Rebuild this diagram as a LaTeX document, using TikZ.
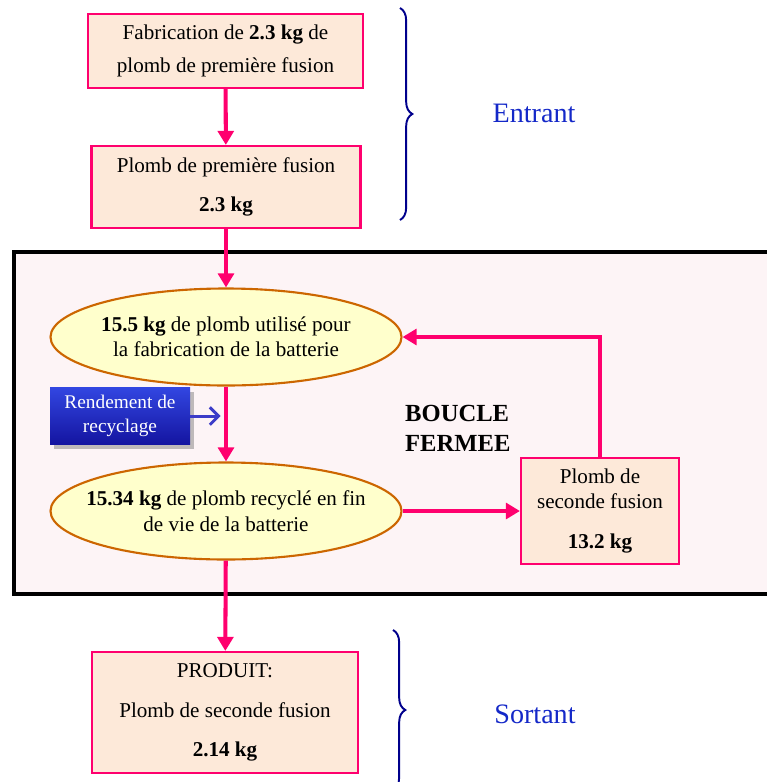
\documentclass[tikz,border=0pt]{standalone}
\usepackage{fontspec}
\setmainfont{Liberation Serif}
\usetikzlibrary{shapes.geometric,arrows.meta,decorations.pathreplacing,shadows}
\definecolor{flux}{RGB}{255,0,110}
\definecolor{peche}{RGB}{253,233,217}
\definecolor{jaune}{RGB}{255,255,204}
\definecolor{ocre}{RGB}{204,102,0}
\definecolor{fondboucle}{RGB}{253,244,246}
\definecolor{bleutxt}{RGB}{20,40,200}
\definecolor{bleufonce}{RGB}{0,0,140}
\definecolor{bleuflux}{RGB}{60,60,200}
\begin{document}
\begin{tikzpicture}[
    txt/.style={font=\fontsize{12}{14.5}\selectfont, align=center},
    boite/.style={txt, rectangle, draw=flux, line width=1.2pt, fill=peche},
    bulle/.style={txt, ellipse, draw=ocre, line width=1.2pt, fill=jaune,
      minimum width=7.02cm, minimum height=1.94cm},
    fleche/.style={draw=flux, line width=2.3pt, -{Triangle[length=8pt,width=9pt]}},
    accolade/.style={draw=bleufonce, line width=1.1pt,
      decorate, decoration={brace, amplitude=7pt}},
    titre/.style={font=\fontsize{16}{19}\selectfont, text=bleutxt}
  ]
  \useasboundingbox (0,0) rectangle (15.32,-15.64);

  % boucle fermee
  \draw[line width=2.3pt, fill=fondboucle] (0.28,-5.04) rectangle (15.6,-11.88);

  % entrant
  \node[boite, minimum width=5.5cm, minimum height=1.48cm] (fab) at (4.51,-1.02)
    {Fabrication de \textbf{2.3 kg} de\\[4pt] plomb de première fusion};
  \node[boite, minimum width=5.38cm, minimum height=1.64cm] (pf) at (4.52,-3.74)
    {Plomb de première fusion\\[8pt] \textbf{2.3 kg}};

  % boucle
  \node[bulle, inner xsep=-6pt] (e1) at (4.52,-6.74)
    {\textbf{15.5 kg} de plomb utilisé pour\\ la fabrication de la batterie};
  \node[bulle, inner xsep=-9.5pt] (e2) at (4.52,-10.22)
    {\textbf{15.34 kg} de plomb recyclé en fin\\ de vie de la batterie};
  \node[boite, minimum width=3.16cm, minimum height=2.12cm] (sf) at (12.0,-10.22)
    {Plomb de\\ seconde fusion\\[8pt] \textbf{13.2 kg}};
  \node[font=\fontsize{11}{13.5}\selectfont, align=center, text=white,
    minimum width=2.8cm, minimum height=1.14cm, drop shadow,
    top color={rgb,255:red,50;green,70;blue,225},
    bottom color={rgb,255:red,20;green,20;blue,160}] (rr) at (2.4,-8.32)
    {Rendement de\\ recyclage};
  \node[font=\fontsize{14}{17}\selectfont\bfseries, align=left, anchor=west] (bf)
    at (7.98,-8.56) {BOUCLE\\ FERMEE};

  % sortant
  \node[boite, minimum width=5.32cm, minimum height=2.42cm] (pr) at (4.5,-14.25)
    {PRODUIT:\\[8pt] Plomb de seconde fusion\\[8pt] \textbf{2.14 kg}};

  \draw[fleche] (fab) -- (pf);
  \draw[fleche] (pf) -- (e1);
  \draw[fleche] (e1) -- (e2);
  \draw[fleche] (e2) -- (sf);
  \draw[fleche] (sf.north) |- (e1.east);
  \draw[fleche] (e2) -- (pr);
  \draw[draw=bleuflux, line width=1.7pt,
    -{Straight Barb[length=5pt,width=10pt]}, shorten >=3pt]
    (rr.east) -- (rr.east -| e1.south);

  % accolades
  \coordinate (a1) at (8.0,-0.16);
  \coordinate (a2) at (8.0,-4.4);
  \coordinate (b1) at (7.86,-12.6);
  \coordinate (b2) at (7.86,-15.8);
  \draw[accolade] (a1) -- (a2);
  \draw[accolade] (b1) -- (b2);
  \node[titre] (ent) at (10.68,-2.26) {Entrant};
  \node[titre] (sor) at (10.7,-14.28) {Sortant};
\end{tikzpicture}
\end{document}
